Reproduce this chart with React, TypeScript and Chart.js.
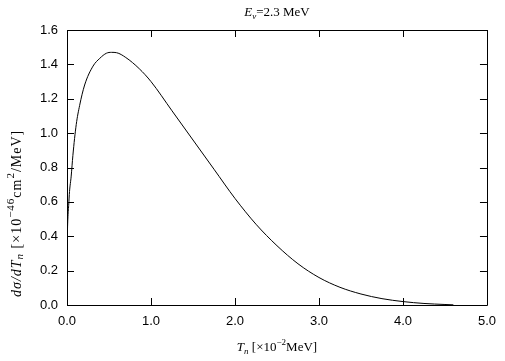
import React, { useEffect, useRef } from "react";
import { Chart, registerables } from "chart.js";

Chart.register(...registerables);

const energyX: number[] = [0.002, 0.005, 0.01, 0.02, 0.03, 0.05, 0.07, 0.11, 0.15, 0.21, 0.31, 0.39, 0.47, 0.53, 0.59, 0.7, 0.86, 1.0, 1.25, 1.5, 1.75, 2.0, 2.25, 2.5, 2.75, 3.0, 3.25, 3.5, 3.75, 4.0, 4.25, 4.5, 4.6];
const crossSection: number[] = [0.32, 0.42, 0.5, 0.58, 0.66, 0.75, 0.87, 1.05, 1.16, 1.28, 1.39, 1.435, 1.465, 1.47, 1.468, 1.44, 1.375, 1.3, 1.13, 0.96, 0.79, 0.62, 0.47, 0.345, 0.24, 0.16, 0.103, 0.064, 0.037, 0.02, 0.009, 0.003, 0.001];
const xTicks: number[] = [0, 1, 2, 3, 4, 5];
const yTicks: number[] = [0, 0.2, 0.4, 0.6, 0.8, 1.0, 1.2, 1.4, 1.6];

type Seg = { t: string; it?: boolean; sup?: boolean; sub?: boolean };

const titleSegs: Seg[] = [{ t: "E", it: true }, { t: "ν", it: true, sub: true }, { t: "=2.3 MeV" }];
const xLabelSegs: Seg[] = [{ t: "T", it: true }, { t: "n", it: true, sub: true }, { t: " [×10" }, { t: "−2", sup: true }, { t: "MeV]" }];
const yLabelSegs: Seg[] = [{ t: "dσ/dT", it: true }, { t: "n", it: true, sub: true }, { t: " [×10" }, { t: "−46", sup: true }, { t: "cm" }, { t: "2", sup: true }, { t: "/MeV]" }];

const FAMILY = '"Liberation Serif", "DejaVu Serif", serif';

function segFont(s: Seg, base: number, supScale: number) {
  const size = s.sup || s.sub ? Math.round(base * supScale) : base;
  return `${s.it ? "italic " : ""}${size}px ${FAMILY}`;
}

function drawRich(
  ctx: CanvasRenderingContext2D,
  segs: Seg[],
  x0: number,
  cy: number,
  base: number,
  align: "center" | "start",
  supScale = 0.72,
  spacing = 0
) {
  (ctx as any).letterSpacing = `${spacing}px`;
  let total = 0;
  for (const s of segs) {
    ctx.font = segFont(s, base, supScale);
    total += ctx.measureText(s.t).width;
  }
  let x = align === "center" ? x0 - total / 2 : x0;
  ctx.textBaseline = "middle";
  ctx.textAlign = "left";
  for (const s of segs) {
    ctx.font = segFont(s, base, supScale);
    let dy = 0;
    if (s.sup) dy = -base * 0.4;
    if (s.sub) dy = base * 0.25;
    ctx.fillText(s.t, x, cy + dy);
    x += ctx.measureText(s.t).width;
  }
  (ctx as any).letterSpacing = "0px";
}

const framePlugin = {
  id: "framePlugin",
  afterDraw(chart: any) {
    const { ctx, chartArea } = chart;
    const xs = chart.scales.x;
    const ys = chart.scales.y;
    const { left, right, top, bottom } = chartArea;
    ctx.save();
    ctx.strokeStyle = "#000";
    ctx.lineWidth = 1;
    ctx.beginPath();
    ctx.rect(Math.round(left) + 0.5, Math.round(top) + 0.5, Math.round(right - left), Math.round(bottom - top));
    ctx.stroke();
    const L = 7;
    ctx.beginPath();
    for (const v of xTicks) {
      const px = Math.round(xs.getPixelForValue(v)) + 0.5;
      ctx.moveTo(px, bottom);
      ctx.lineTo(px, bottom - L);
      ctx.moveTo(px, top);
      ctx.lineTo(px, top + L);
    }
    for (const v of yTicks) {
      const py = Math.round(ys.getPixelForValue(v)) + 0.5;
      ctx.moveTo(left, py);
      ctx.lineTo(left + L, py);
      ctx.moveTo(right, py);
      ctx.lineTo(right - L, py);
    }
    ctx.stroke();
    ctx.fillStyle = "#000";
    const cx = (left + right) / 2;
    drawRich(ctx, titleSegs, cx, 13, 13, "center");
    drawRich(ctx, xLabelSegs, cx, 348, 13, "center");
    ctx.save();
    ctx.translate(17, 297);
    ctx.rotate(-Math.PI / 2);
    drawRich(ctx, yLabelSegs, 0, 0, 14, "start", 0.8, 1);
    ctx.restore();
    ctx.restore();
  },
};

export default function App() {
  const ref = useRef<HTMLCanvasElement>(null);
  useEffect(() => {
    document.body.style.margin = "0";
    const canvas = ref.current;
    if (!canvas) return;
    const chart = new Chart(canvas, {
      type: "line",
      data: {
        datasets: [
          {
            data: energyX.map((x, i) => ({ x, y: crossSection[i] })),
            borderColor: "#000",
            borderWidth: 1,
            pointRadius: 0,
            fill: false,
            cubicInterpolationMode: "monotone",
          },
        ],
      },
      options: {
        animation: false,
        responsive: false,
        maintainAspectRatio: false,
        layout: { padding: { left: 0, right: 17, top: 30, bottom: 0 } },
        plugins: { legend: { display: false }, tooltip: { enabled: false }, title: { display: false } },
        scales: {
          x: {
            type: "linear",
            min: 0,
            max: 5,
            afterFit: (s: any) => { s.height = 56; },
            afterBuildTicks: (s: any) => { s.ticks = xTicks.map((v) => ({ value: v })); },
            grid: { display: false, drawTicks: false },
            border: { display: false },
            ticks: {
              padding: 9,
              color: "#000",
              font: { family: '"Liberation Sans", Arial, sans-serif', size: 13 },
              callback: (v: any) => Number(v).toFixed(1),
            },
          },
          y: {
            type: "linear",
            min: 0,
            max: 1.6,
            afterFit: (s: any) => { s.width = 67; },
            afterBuildTicks: (s: any) => { s.ticks = yTicks.map((v) => ({ value: v })); },
            grid: { display: false, drawTicks: false },
            border: { display: false },
            ticks: {
              padding: 9,
              color: "#000",
              font: { family: '"Liberation Sans", Arial, sans-serif', size: 13 },
              callback: (v: any) => Number(v).toFixed(1),
            },
          },
        },
      },
      plugins: [framePlugin],
    });
    return () => chart.destroy();
  }, []);
  return <canvas ref={ref} width={505} height={361} style={{ display: "block" }} />;
}
